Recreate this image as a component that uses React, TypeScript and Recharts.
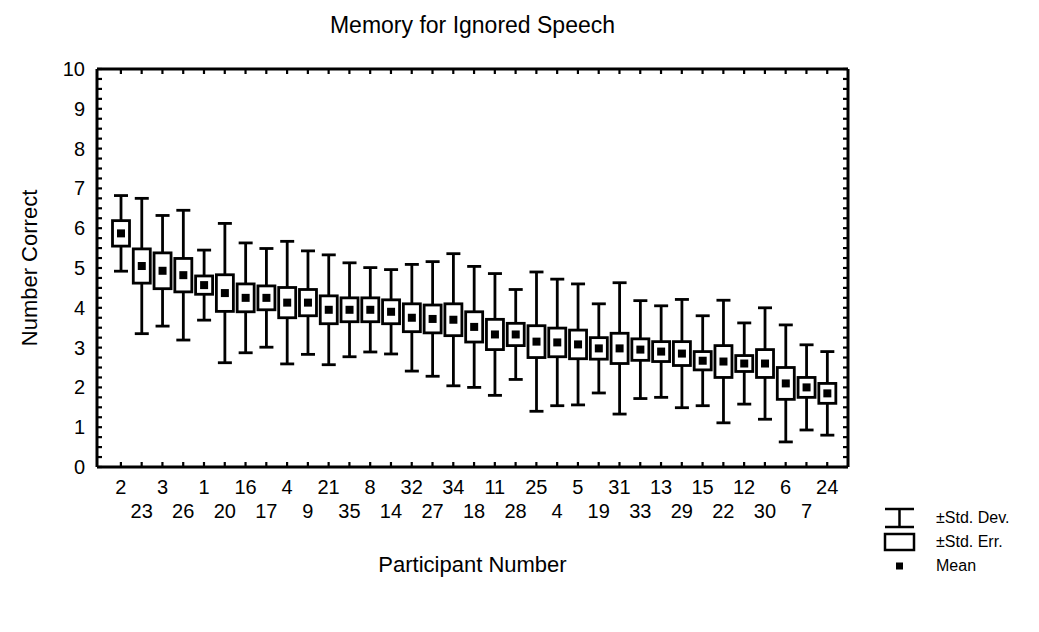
import { ComposedChart, Bar, XAxis, YAxis } from 'recharts';

// participants, in the order they appear along the x axis (sorted by mean)
const participants = [
  '2', '23', '3', '26', '1', '20', '16', '17', '4', '9', '21', '35', '8', '14', '32', '27', '34', '18',
  '11', '28', '25', '4', '5', '19', '31', '33', '13', '29', '15', '22', '12', '30', '6', '7', '24',
];
const means = [
  5.87, 5.05, 4.93, 4.82, 4.57, 4.37, 4.25, 4.25, 4.13, 4.13, 3.95, 3.95, 3.95, 3.9, 3.75, 3.72, 3.7, 3.52,
  3.33, 3.33, 3.15, 3.13, 3.08, 2.98, 2.98, 2.95, 2.9, 2.85, 2.67, 2.65, 2.6, 2.6, 2.1, 2.0, 1.85,
];
const stdErr = [
  0.32, 0.43, 0.45, 0.42, 0.23, 0.46, 0.35, 0.3, 0.38, 0.33, 0.35, 0.3, 0.3, 0.3, 0.35, 0.35, 0.4, 0.38,
  0.38, 0.28, 0.4, 0.36, 0.36, 0.27, 0.38, 0.27, 0.25, 0.3, 0.23, 0.4, 0.2, 0.35, 0.4, 0.25, 0.25,
];
const stdDev = [
  0.95, 1.7, 1.39, 1.63, 0.88, 1.75, 1.38, 1.24, 1.54, 1.3, 1.38, 1.18, 1.06, 1.06, 1.34, 1.44, 1.66, 1.52,
  1.53, 1.13, 1.75, 1.59, 1.52, 1.12, 1.65, 1.23, 1.15, 1.36, 1.13, 1.54, 1.02, 1.4, 1.47, 1.07, 1.05,
];
const yLabels = [0, 1, 2, 3, 4, 5, 6, 7, 8, 9, 10];
const yMinorStep = 0.25;

const data = participants.map((p, i) => ({
  idx: i,
  label: p,
  mean: means[i],
  se: stdErr[i],
  sd: stdDev[i],
  range: [means[i] - stdDev[i], means[i] + stdDev[i]],
}));

const xTicks = participants.map((_, i) => i);
const yTicks: number[] = [];
for (let v = 0; v <= 10.001; v += yMinorStep) yTicks.push(Math.round(v * 100) / 100);

const FONT = '"Liberation Sans", Arial, Helvetica, sans-serif';
const TICK = 5;
const LW = 2.8;

const LeftTick = (props: any) => {
  const { x, y, payload } = props;
  const isMajor = yLabels.includes(payload.value);
  return (
    <g>
      <line x1={x} x2={x + TICK} y1={y} y2={y} stroke="#000" strokeWidth={2.2} />
      {isMajor && (
        <text x={x - 12} y={y} textAnchor="end" dominantBaseline="central" fontSize={20} fontFamily={FONT} fill="#000">
          {payload.value}
        </text>
      )}
    </g>
  );
};

const RightTick = (props: any) => {
  const { x, y } = props;
  return <line x1={x} x2={x - TICK} y1={y} y2={y} stroke="#000" strokeWidth={2.2} />;
};

const TopTick = (props: any) => {
  const { x, y } = props;
  return <line x1={x} x2={x} y1={y} y2={y + TICK} stroke="#000" strokeWidth={2.2} />;
};

const BottomTick = (props: any) => {
  const { x, y, payload } = props;
  const i = payload.value;
  const row = i % 2;
  return (
    <g>
      <line x1={x} x2={x} y1={y} y2={y - TICK} stroke="#000" strokeWidth={2.2} />
      <text x={x} y={y + 20 + row * 24} textAnchor="middle" dominantBaseline="central" fontSize={20} fontFamily={FONT} fill="#000">
        {participants[i]}
      </text>
    </g>
  );
};

const BoxShape = (props: any) => {
  const { x, y, width, height, payload } = props;
  const top = Math.min(y, y + height);
  const h = Math.abs(height);
  const cx = x + width / 2;
  const cy = top + h / 2;
  const ppu = h / (2 * payload.sd);
  const half = payload.se * ppu;
  const cap = 7;
  return (
    <g>
      <line x1={cx} x2={cx} y1={top} y2={top + h} stroke="#000" strokeWidth={LW} />
      <line x1={cx - cap} x2={cx + cap} y1={top} y2={top} stroke="#000" strokeWidth={LW} />
      <line x1={cx - cap} x2={cx + cap} y1={top + h} y2={top + h} stroke="#000" strokeWidth={LW} />
      <rect x={cx - 8.5} y={cy - half} width={17} height={half * 2} fill="#fff" stroke="#000" strokeWidth={LW} />
      <rect x={cx - 4} y={cy - 4} width={8} height={8} fill="#000" />
    </g>
  );
};

const Nothing = () => null;

const text = (style: any) => ({ position: 'absolute' as const, fontFamily: FONT, color: '#000', whiteSpace: 'nowrap' as const, ...style });

export default function App() {
  return (
    <div style={{ position: 'absolute', left: 0, top: 0, width: 1039, height: 632, background: '#fff' }}>
      <ComposedChart width={1039} height={632} data={data} margin={{ top: 68, right: 190, bottom: 0, left: 0 }}>
        <XAxis
          xAxisId="bottom"
          dataKey="idx"
          type="number"
          domain={[-1.15, 35]}
          ticks={xTicks}
          interval={0}
          height={165}
          tickSize={0}
          tickMargin={0}
          tickLine={false}
          axisLine={{ stroke: '#000', strokeWidth: 3 }}
          tick={<BottomTick />}
          allowDataOverflow
        />
        <XAxis
          xAxisId="top"
          orientation="top"
          dataKey="idx"
          type="number"
          domain={[-1.15, 35]}
          ticks={xTicks}
          interval={0}
          height={1}
          tickSize={0}
          tickMargin={0}
          tickLine={false}
          axisLine={{ stroke: '#000', strokeWidth: 3 }}
          tick={<TopTick />}
          allowDataOverflow
        />
        <YAxis
          yAxisId="left"
          type="number"
          domain={[0, 10]}
          ticks={yTicks}
          interval={0}
          width={97}
          tickSize={0}
          tickMargin={0}
          tickLine={false}
          axisLine={{ stroke: '#000', strokeWidth: 3 }}
          tick={<LeftTick />}
          allowDataOverflow
        />
        <YAxis
          yAxisId="right"
          orientation="right"
          type="number"
          domain={[0, 10]}
          ticks={yTicks}
          interval={0}
          width={1}
          tickSize={0}
          tickMargin={0}
          tickLine={false}
          axisLine={{ stroke: '#000', strokeWidth: 3 }}
          tick={<RightTick />}
          allowDataOverflow
        />
        {/* invisible series so the top and right frame axes are drawn */}
        <Bar
          xAxisId="top"
          yAxisId="right"
          dataKey="range"
          barSize={17}
          shape={<Nothing />}
          isAnimationActive={false}
        />
        <Bar
          xAxisId="bottom"
          yAxisId="left"
          dataKey="range"
          barSize={17}
          shape={<BoxShape />}
          isAnimationActive={false}
        />
      </ComposedChart>

      <div style={text({ left: 0, width: 945, top: 12, textAlign: 'center', fontSize: 23 })}>Memory for Ignored Speech</div>
      <div style={text({ left: 0, width: 945, top: 552, textAlign: 'center', fontSize: 22 })}>Participant Number</div>
      <div style={text({ left: 30, top: 268, fontSize: 22, transform: 'translate(-50%, -50%) rotate(-90deg)' })}>Number Correct</div>

      <div style={{ position: 'absolute', left: 880, top: 506, width: 159 }}>
        <div style={{ display: 'flex', alignItems: 'center', height: 24 }}>
          <svg width={40} height={24}>
            <line x1={5} x2={34} y1={3} y2={3} stroke="#000" strokeWidth={2.5} />
            <line x1={19.5} x2={19.5} y1={3} y2={21} stroke="#000" strokeWidth={2.5} />
            <line x1={5} x2={34} y1={21} y2={21} stroke="#000" strokeWidth={2.5} />
          </svg>
          <span style={{ fontFamily: FONT, fontSize: 16, marginLeft: 16 }}>±Std. Dev.</span>
        </div>
        <div style={{ display: 'flex', alignItems: 'center', height: 24 }}>
          <svg width={40} height={24}>
            <rect x={5} y={4} width={29} height={16} fill="#fff" stroke="#000" strokeWidth={2.5} />
          </svg>
          <span style={{ fontFamily: FONT, fontSize: 16, marginLeft: 16 }}>±Std. Err.</span>
        </div>
        <div style={{ display: 'flex', alignItems: 'center', height: 24 }}>
          <svg width={40} height={24}>
            <rect x={16} y={8.5} width={7} height={7} fill="#000" />
          </svg>
          <span style={{ fontFamily: FONT, fontSize: 16, marginLeft: 16 }}>Mean</span>
        </div>
      </div>
    </div>
  );
}
